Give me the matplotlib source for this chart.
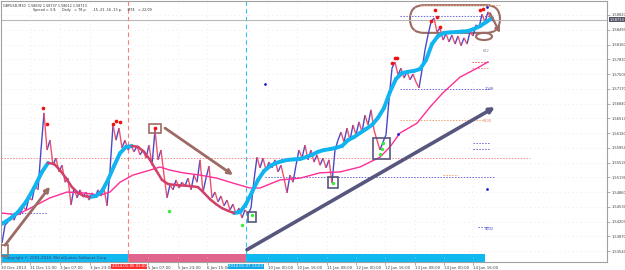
'''GBPUSD M30 chart redraw.'''
import matplotlib as mpl
mpl.use('Agg')
import matplotlib.pyplot as plt
from matplotlib.collections import LineCollection
from matplotlib.patches import FancyBboxPatch, Ellipse, Rectangle
import numpy as np

# bar index of every sampled close (one M30 bar per pixel column)
bar_x = list(range(2, 495, 3))
closes = [1.5372, 1.5412, 1.5419, 1.5432, 1.5423, 1.5441, 1.5435, 1.5453, 1.5446, 1.5473,
          1.5468, 1.5500, 1.5491, 1.5580, 1.5663, 1.5580, 1.5602, 1.5546, 1.5562, 1.5531,
          1.5546, 1.5508, 1.5517, 1.5457, 1.5495, 1.5473, 1.5491, 1.5475, 1.5486, 1.5468,
          1.5484, 1.5473, 1.5491, 1.5477, 1.5495, 1.5455, 1.5535, 1.5636, 1.5602, 1.5629,
          1.5585, 1.5602, 1.5580, 1.5591, 1.5576, 1.5589, 1.5569, 1.5580, 1.5562, 1.5591,
          1.5546, 1.5625, 1.5558, 1.5580, 1.5524, 1.5473, 1.5502, 1.5491, 1.5513, 1.5495,
          1.5508, 1.5500, 1.5517, 1.5491, 1.5524, 1.5508, 1.5558, 1.5486, 1.5517, 1.5544,
          1.5473, 1.5486, 1.5464, 1.5477, 1.5455, 1.5468, 1.5446, 1.5459, 1.5437, 1.5450,
          1.5428, 1.5446, 1.5437, 1.5450, 1.5513, 1.5564, 1.5540, 1.5562, 1.5535, 1.5553,
          1.5540, 1.5558, 1.5531, 1.5546, 1.5517, 1.5484, 1.5524, 1.5508, 1.5546, 1.5580,
          1.5562, 1.5591, 1.5558, 1.5580, 1.5553, 1.5569, 1.5546, 1.5562, 1.5540, 1.5558,
          1.5506, 1.5580, 1.5602, 1.5620, 1.5598, 1.5629, 1.5602, 1.5636, 1.5614, 1.5643,
          1.5620, 1.5658, 1.5636, 1.5670, 1.5625, 1.5602, 1.5580, 1.5598, 1.5614, 1.5692,
          1.5763, 1.5777, 1.5748, 1.5763, 1.5741, 1.5755, 1.5737, 1.5750, 1.5732, 1.5719,
          1.5759, 1.5804, 1.5837, 1.5866, 1.5875, 1.5844, 1.5853, 1.5826, 1.5840, 1.5822,
          1.5837, 1.5817, 1.5835, 1.5813, 1.5831, 1.5817, 1.5844, 1.5835, 1.5860, 1.5853,
          1.5884, 1.5866, 1.5889, 1.5871, 1.5871]

# fast smoothed MA (cyan when rising, red when falling)
fast_x = list(range(2, 49, 8)) + list(range(48, 493, 6))
fast_ma = [1.5415, 1.5426, 1.5441, 1.5464, 1.5495, 1.5531,
           1.5551, 1.5549, 1.5535, 1.5517, 1.5497, 1.5484, 1.5477, 1.5475, 1.5477, 1.5488,
           1.5513, 1.5544, 1.5573, 1.5587, 1.5589, 1.5587, 1.5576, 1.5558, 1.5535, 1.5513,
           1.5504, 1.5502, 1.5501, 1.5500, 1.5499, 1.5497, 1.5484, 1.5470, 1.5459, 1.5450,
           1.5444, 1.5439, 1.5441, 1.5459, 1.5486, 1.5513, 1.5533, 1.5544, 1.5551, 1.5555,
           1.5558, 1.5559, 1.5560, 1.5564, 1.5569, 1.5576, 1.5580, 1.5582, 1.5585, 1.5589,
           1.5602, 1.5609, 1.5618, 1.5627, 1.5636, 1.5652, 1.5674, 1.5710, 1.5739, 1.5752,
           1.5755, 1.5757, 1.5761, 1.5781, 1.5817, 1.5835, 1.5842, 1.5843, 1.5844, 1.5845,
           1.5846, 1.5851, 1.5857, 1.5866, 1.5875]

# slow MA (magenta)
slow_x = [2, 17, 33, 50, 67, 83, 100, 110, 120, 133, 150, 160, 170, 183, 200, 217, 233,
          250, 260, 280, 300, 320, 340, 360, 380, 390, 400, 417, 430, 443, 460, 477, 488]
slow_ma = [1.5439, 1.5435, 1.5453, 1.5473, 1.5486, 1.5484, 1.5479, 1.5486, 1.5508, 1.5524,
           1.5535, 1.5542, 1.5535, 1.5529, 1.5524, 1.5517, 1.5506, 1.5495, 1.5495, 1.5513,
           1.5517, 1.5529, 1.5531, 1.5542, 1.5564, 1.5587, 1.5618, 1.5640, 1.5676, 1.5708,
           1.5743, 1.5763, 1.5777]

# fractal / signal dots
red_dot_x = [43, 47, 113, 116, 120, 155, 392, 395, 397, 431, 435, 437, 440, 480, 483]
red_dot_y = [1.5674, 1.5638, 1.5638, 1.5645, 1.5643, 1.5629, 1.5775, 1.5786, 1.5786,
             1.5869, 1.5893, 1.5878, 1.5855, 1.5893, 1.5896]
green_dot_x = [169, 242, 252, 333, 383, 382, 380]
green_dot_y = [1.5444, 1.5412, 1.5435, 1.5506, 1.5596, 1.5582, 1.5571]
blue_dot_x = [265, 398, 487, 487]
blue_dot_y = [1.5728, 1.5616, 1.5900, 1.5493]

price_ticks = [1.58820, 1.58490, 1.58160, 1.57830, 1.57500, 1.57170, 1.56840, 1.56510,
               1.56180, 1.55850, 1.55520, 1.55190, 1.54860, 1.54530, 1.54200, 1.53870,
               1.53540]
bid = 1.58713
time_ticks = [1, 30, 60, 90, 148, 178, 207, 268, 297, 327, 356, 385, 415, 444, 473]
time_labels = ['30 Dec 2013', '31 Dec 11:00', '3 Jan 07:00', '3 Jan 23:00', '5 Jan 07:00',
               '5 Jan 23:00', '6 Jan 15:00', '10 Jan 00:00', '10 Jan 16:00', '11 Jan 08:00',
               '12 Jan 00:00', '12 Jan 16:00', '13 Jan 08:00', '14 Jan 00:00', '14 Jan 16:00']
red_line_x, red_line_label = 128, '2014.01.06 03:00'
blue_line_x, blue_line_label = 246, '2014.01.07 13:00'

# hand drawn levels: (price, x from, x to, colour)
levels = [(1.5562, 1, 530, '#f08a8a'), (1.5439, 1, 47, '#6a6ad8'),
          (1.5520, 265, 495, '#6a6ad8'), (1.5880, 400, 490, '#6a6ad8'),
          (1.5904, 420, 500, '#f0a070'), (1.5717, 400, 490, '#6a6ad8'),
          (1.5647, 400, 483, '#f0a070'), (1.5777, 472, 488, '#ff5050'),
          (1.5763, 472, 488, '#f08a8a'), (1.5596, 473, 490, '#6a6ad8'),
          (1.5582, 473, 490, '#6a6ad8'), (1.5524, 443, 458, '#f0a070'),
          (1.5407, 478, 490, '#6a6ad8')]
level_text = [(483, 1.5802, '622', '#8080a0'), (485, 1.5717, '1048', '#5050c0'),
              (483, 1.5645, '2200', '#e08060'), (485, 1.5404, '4602', '#5050c0')]

BROWN = '#9c6b63'
NAVY = '#56567e'

fig = plt.figure(figsize=(6.25, 2.7), dpi=100)
ax = fig.add_axes([1 / 625, 8 / 270, 606 / 625, 261 / 270])
ax.set_xlim(1, 607)
ax.set_ylim(1.53295, 1.59133)

ax.grid(True, color='#f0cdd6', ls=(0, (1, 5)), lw=0.5)
for s in ax.spines.values():
    s.set_color('#a0a0a0')
    s.set_linewidth(0.8)

# session lines and bottom strip
ax.axvline(red_line_x, color='#ff7a7a', lw=0.8, ls=(0, (4, 3)))
ax.axvline(blue_line_x, color='#30c0f0', lw=0.8, ls=(0, (4, 3)))
ax.axvspan(1, red_line_x, ymin=0, ymax=0.03, color='#10b8f0', lw=0)
ax.axvspan(red_line_x, blue_line_x, ymin=0, ymax=0.03, color='#e0648c', lw=0)
ax.axvspan(blue_line_x, 485, ymin=0, ymax=0.03, color='#10b8f0', lw=0)
ax.text(4, 0.015, 'Copyright \u00a9 2001-2010, MetaQuotes Software Corp.',
        transform=ax.get_xaxis_transform(), fontsize=2.8, color='#404070', va='center')

ax.axhline(bid, color='#b8b8b8', lw=0.8)
for p, x0, x1, c in levels:
    ax.plot([x0, x1], [p, p], color=c, lw=0.7, ls=(0, (1.5, 1.5)))
for x, p, t, c in level_text:
    ax.text(x, p, t, fontsize=2.6, color=c, va='center')

# price bars drawn as a close-to-close zigzag
pts = np.column_stack([bar_x, closes])
segs = np.stack([pts[:-1], pts[1:]], axis=1)
up = np.diff(closes) >= 0
ax.add_collection(LineCollection(segs[up], colors='#4848c8', lw=1.0))
ax.add_collection(LineCollection(segs[~up], colors='#f0506a', lw=1.0))

ax.plot(slow_x, slow_ma, color='#ff2d96', lw=1.0)

fpts = np.column_stack([fast_x, fast_ma])
fsegs = np.stack([fpts[:-1], fpts[1:]], axis=1)
rising = np.diff(fast_ma) > 0
ax.add_collection(LineCollection(fsegs[rising], colors='#10b4f0', lw=2.8, capstyle='round'))
ax.add_collection(LineCollection(fsegs[~rising], colors='#d0406a', lw=1.8, capstyle='round'))

ax.scatter(red_dot_x, red_dot_y, s=7, color='#ee1111', zorder=5, lw=0)
ax.scatter(green_dot_x, green_dot_y, s=6, color='#33ee33', zorder=5, lw=0)
ax.scatter(blue_dot_x, blue_dot_y, s=4, color='#2020d0', zorder=5, lw=0)

# hand drawn marks
def arrow(x0, y0, x1, y1, color, lw):
    ax.annotate('', xy=(x1, y1), xytext=(x0, y0),
                arrowprops=dict(arrowstyle='-|>', color=color, lw=lw,
                                mutation_scale=7, shrinkA=0, shrinkB=0))

arrow(5, 1.5367, 50, 1.5498, BROWN, 2.0)
arrow(165, 1.5629, 233, 1.5524, BROWN, 2.0)
arrow(247, 1.5357, 495, 1.5676, NAVY, 2.6)
arrow(490, 1.5886, 500, 1.5842, BROWN, 1.6)

ax.add_patch(FancyBboxPatch((410, 1.5842), 90, 0.0062,
                            boxstyle='round,pad=0,rounding_size=14',
                            mutation_aspect=0.0002237, fc='none', ec=BROWN, lw=1.5))
ax.add_patch(Ellipse((484, 1.5834), 16, 0.0016, fc='none', ec=BROWN, lw=1.5))

boxes = [(1, 1.5343, 7, 0.0024, BROWN), (149, 1.5618, 12, 0.0020, BROWN),
         (248, 1.5419, 8, 0.0022, NAVY), (328, 1.5495, 10, 0.0025, NAVY),
         (373, 1.5560, 17, 0.0047, NAVY)]
for x, y, w, h, c in boxes:
    ax.add_patch(Rectangle((x, y), w, h, fc='none', ec=c, lw=1.2, zorder=6))

# axes text
ax.yaxis.tick_right()
ax.set_yticks(price_ticks)
ax.set_yticklabels([f'{v:.5f}' for v in price_ticks])
ax.tick_params(axis='y', length=2, width=0.5, pad=1, colors='#909090',
               labelsize=2.6, labelcolor='#404040')
ax.set_xticks(time_ticks)
ax.set_xticklabels(time_labels, ha='left')
ax.tick_params(axis='x', length=2, width=0.5, pad=0.8, colors='#909090',
               labelsize=2.9, labelcolor='#404040')
ax.text(1.004, bid, f'{bid:.5f}', transform=ax.get_yaxis_transform(), fontsize=2.6,
        color='white', va='center', ha='left',
        bbox=dict(boxstyle='square,pad=0.15', fc='#555566', ec='none'))
ax.text(red_line_x + 1, -0.016, red_line_label, transform=ax.get_xaxis_transform(),
        fontsize=2.8, color='white', ha='center', va='center',
        bbox=dict(boxstyle='square,pad=0.15', fc='#ff3030', ec='none'))
ax.text(blue_line_x, -0.016, blue_line_label, transform=ax.get_xaxis_transform(),
        fontsize=2.8, color='white', ha='center', va='center',
        bbox=dict(boxstyle='square,pad=0.15', fc='#10a8e8', ec='none'))

ax.text(3, 1.5902, 'GBPUSD,M30  1.58692 1.58737 1.58612 1.58713', fontsize=2.4,
        color='#303030', va='center')
ax.text(33, 1.5893, 'Spread = 3.9,     Daily   = 78 p,     -15 -21 -16 -13 p,     MT4   = 22:09',
        fontsize=2.4, color='#303030', va='center')

fig.savefig('out.png', dpi=100)
